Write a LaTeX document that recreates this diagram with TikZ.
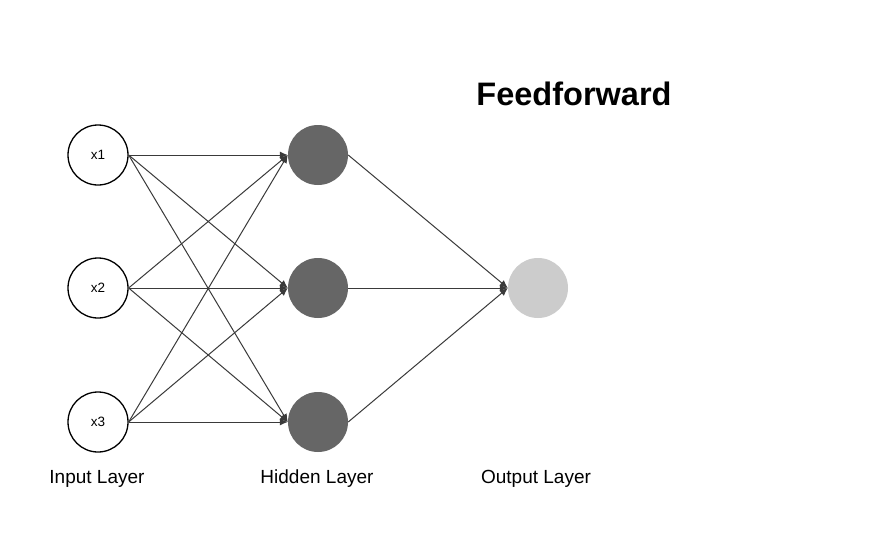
\documentclass[tikz,border=0pt]{standalone}
\usepackage{fontspec}
\setmainfont{Liberation Sans}
\usetikzlibrary{arrows.meta}
\definecolor{edgecol}{HTML}{3A3A3A}
\definecolor{hidcol}{HTML}{666666}
\definecolor{outcol}{HTML}{CCCCCC}
\begin{document}
\begin{tikzpicture}[x=1pt,y=-1pt,
  inp/.style={circle,draw=black,line width=1.3pt,fill=white,minimum size=60pt,inner sep=0pt,font=\fontsize{13.5}{16}\selectfont},
  hid/.style={circle,fill=hidcol,minimum size=60pt,inner sep=0pt},
  outn/.style={circle,fill=outcol,minimum size=60pt,inner sep=0pt},
  conn/.style={draw=edgecol,line width=1pt,-{Latex[length=8pt,width=7pt]}},
  lbl/.style={font=\fontsize{19}{22}\selectfont,inner sep=0pt},
  ttl/.style={font=\fontsize{32.5}{38}\selectfont\bfseries,inner sep=0pt}]
\useasboundingbox (0,0) rectangle (875,541);
\fill[white] (0,0) rectangle (875,541);
\node[inp] (x1) at (98,155) {x1};
\node[inp] (x2) at (98,288) {x2};
\node[inp] (x3) at (98,422) {x3};
\node[hid] (h1) at (318,155) {};
\node[hid] (h2) at (318,288) {};
\node[hid] (h3) at (318,422) {};
\node[outn] (o) at (538,288) {};
\foreach \i in {x1,x2,x3}{
  \foreach \j in {h1,h2,h3}{
    \draw[conn] (\i.east) -- (\j.west);
  }
}
\foreach \j in {h1,h2,h3}{
  \draw[conn] (\j.east) -- (o.west);
}
\node[lbl] (li) at (97,479) {Input Layer};
\node[lbl] (lh) at (317,479) {Hidden Layer};
\node[lbl] (lo) at (536,479) {Output Layer};
\node[ttl] (t) at (574,94) {Feedforward};
\end{tikzpicture}
\end{document}
